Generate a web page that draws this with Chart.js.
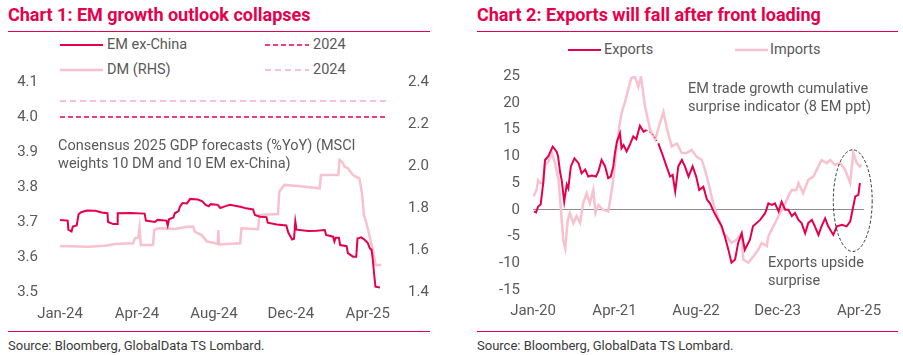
<!DOCTYPE html>
<html>
<head>
<meta charset="utf-8">
<script src="https://cdn.jsdelivr.net/npm/chart.js@4"></script>
<style>
  html,body{margin:0;padding:0;background:#fff;}
  body{width:903px;height:355px;position:relative;overflow:hidden;font-family:Roboto,"Noto Sans",sans-serif;}
  .abs{position:absolute;white-space:nowrap;}
  .title{font-weight:700;font-size:18px;color:#E6004C;line-height:20px;}
  .rule{position:absolute;height:1px;background:#E6004C;}
  .src{font-size:13px;color:#3a3a3a;line-height:16px;}
  .leg{font-size:14.5px;color:#595959;line-height:18px;}
  .ann{font-size:14.5px;color:#595959;line-height:18px;}
  canvas{position:absolute;}
</style>
</head>
<body>
<!-- Chart 1 -->
<div class="abs title" style="left:8px;top:5px;">Chart 1: EM growth outlook collapses</div>
<div class="rule" style="left:8px;top:31px;width:422px;"></div>
<svg class="abs" style="left:60px;top:38px;" width="43" height="40">
  <line x1="0" y1="7" x2="43" y2="7" stroke="#E6004C" stroke-width="2"/>
  <line x1="0" y1="32" x2="43" y2="32" stroke="#F8C1CF" stroke-width="2.5"/>
</svg>
<svg class="abs" style="left:265px;top:38px;" width="44" height="40">
  <line x1="0" y1="7" x2="44" y2="7" stroke="#E6004C" stroke-width="1.5" stroke-dasharray="5,3"/>
  <line x1="0" y1="32" x2="44" y2="32" stroke="#F8C1CF" stroke-width="2" stroke-dasharray="6,4"/>
</svg>
<div class="abs leg" style="left:107px;top:36px;">EM ex-China</div>
<div class="abs leg" style="left:107px;top:61px;">DM (RHS)</div>
<div class="abs leg" style="left:313px;top:36px;">2024</div>
<div class="abs leg" style="left:313px;top:61px;">2024</div>
<canvas id="c1" width="450" height="253" style="left:0px;top:72px;"></canvas>
<div class="abs ann" style="left:58px;top:137px;">Consensus 2025 GDP forecasts (%YoY) (MSCI</div>
<div class="abs ann" style="left:58px;top:155px;">weights 10 DM and 10 EM ex-China)</div>
<div class="rule" style="left:8px;top:331px;width:422px;"></div>
<div class="abs src" style="left:8px;top:338px;">Source: Bloomberg, GlobalData TS Lombard.</div>

<!-- Chart 2 -->
<div class="abs title" style="left:477px;top:5px;">Chart 2: Exports will fall after front loading</div>
<div class="rule" style="left:477px;top:31px;width:421px;"></div>
<svg class="abs" style="left:568px;top:42px;" width="33" height="14">
  <line x1="0" y1="8" x2="33" y2="8" stroke="#E6004C" stroke-width="2"/>
</svg>
<svg class="abs" style="left:735px;top:42px;" width="33" height="14">
  <line x1="0" y1="8" x2="33" y2="8" stroke="#F8C1CF" stroke-width="2.5"/>
</svg>
<div class="abs leg" style="left:604px;top:41px;">Exports</div>
<div class="abs leg" style="left:770px;top:41px;">Imports</div>
<canvas id="c2" width="443" height="259" style="left:460px;top:66px;"></canvas>
<div class="abs ann" style="left:688px;top:80px;">EM trade growth cumulative</div>
<div class="abs ann" style="left:688px;top:98px;">surprise indicator (8 EM ppt)</div>
<div class="abs ann" style="left:768px;top:254px;">Exports upside</div>
<div class="abs ann" style="left:768px;top:272px;">surprise</div>
<div class="rule" style="left:477px;top:331px;width:421px;"></div>
<div class="abs src" style="left:477px;top:338px;">Source: Bloomberg, GlobalData TS Lombard.</div>

<script>
// ---------- Chart 1 data (x = days since 1 Jan 2024) ----------
const emDays = [0,12,13,18,20,26,29,33,42,55,65,74,75,83,89,90,110,132,134,148,152,166,168,170,177,179,185,187,191,198,203,215,222,227,232,235,246,250,256,265,275,283,290,301,304,312,322,324,338,353,356,362,365,367,369,387,400,413,415,426,428,430,435,437,447,449,457,462,464,470,476,480,483,486,488,490,492,499];
const emVals = [3.706,3.704,3.678,3.673,3.687,3.690,3.722,3.728,3.733,3.732,3.727,3.725,3.700,3.694,3.694,3.725,3.726,3.724,3.704,3.700,3.706,3.704,3.690,3.708,3.713,3.725,3.731,3.744,3.754,3.753,3.766,3.764,3.759,3.749,3.745,3.751,3.749,3.740,3.744,3.749,3.746,3.743,3.739,3.736,3.720,3.715,3.714,3.698,3.693,3.690,3.670,3.650,3.652,3.702,3.678,3.674,3.675,3.677,3.663,3.658,3.644,3.655,3.655,3.634,3.631,3.611,3.601,3.601,3.653,3.656,3.648,3.640,3.626,3.620,3.590,3.550,3.515,3.513];
const dmDays = [0,44,70,86,114,117,122,124,126,145,147,153,179,198,208,210,221,229,242,246,247,248,281,283,309,311,340,342,350,371,405,407,434,436,440,444,449,457,467,471,474,478,483,488,492,501];
const dmVals = [1.619,1.616,1.620,1.629,1.632,1.656,1.660,1.705,1.624,1.624,1.695,1.703,1.700,1.711,1.711,1.687,1.671,1.641,1.632,1.630,1.695,1.626,1.632,1.703,1.699,1.767,1.771,1.878,1.910,1.905,1.894,1.957,1.957,2.029,2.020,1.997,1.989,1.957,1.940,1.870,1.767,1.727,1.663,1.600,1.529,1.529];
const ref2024Days = [0,510];
const em2024 = 4.0;
const dm2024 = 2.31;
const x1TickPos = [0,120,240,360,480];
const x1TickLabels = ['Jan-24','Apr-24','Aug-24','Dec-24','Apr-25'];

// ---------- Chart 2 data (x = months since Jan 2020) ----------
const expMonths = [0.2,0.6,1.0,1.5,2.0,2.35,3.0,3.85,4.6,4.9,5.3,5.6,6.1,6.6,6.9,7.4,8.1,8.9,9.5,10.2,10.8,11.5,12.3,12.8,13.4,14.1,14.7,15.2,15.7,16.0,16.4,17.0,17.3,17.7,18.3,18.9,19.6,20.2,20.9,21.6,22.2,23.5,24.5,25.2,26.1,26.8,27.3,27.8,28.4,29.1,29.7,30.4,31.2,31.9,32.5,33.3,34.0,34.6,35.3,36.2,36.9,37.5,38.2,38.8,39.5,40.1,40.8,41.4,42.4,43.0,44.4,45.4,46.0,46.7,47.3,48.0,48.6,49.3,49.9,50.6,51.2,51.9,52.5,53.2,53.8,54.5,55.1,55.8,56.4,57.1,57.7,58.7,59.4,60.4,61.3,62.0,62.6,63.0,63.6,63.9];
const expVals = [-0.3,-0.5,0.6,1.0,5.0,9.3,10.0,11.8,10.9,10.0,7.0,5.6,1.5,4.7,4.0,8.1,9.6,8.7,6.8,7.5,6.2,6.4,6.2,7.2,9.3,8.1,5.9,6.2,8.1,10.5,12.7,14.3,11.5,12.1,10.9,12.1,13.7,13.2,15.7,14.6,14.9,14.0,12.4,10.6,8.1,6.2,6.5,3.4,8.1,9.3,8.1,6.2,8.1,6.2,3.7,4.3,1.9,1.2,-0.3,-1.9,-3.1,-5.0,-7.5,-9.9,-9.3,-6.2,-4.4,-7.5,-5.6,-3.1,-1.9,-0.6,1.2,0.9,1.2,-0.3,1.5,0,0,-1.2,-0.6,-1.9,-2.5,-4.4,-2.5,-1.9,-3.1,-4.7,-3.1,-1.6,-3.1,-4.7,-3.1,-2.8,-3.1,-2.2,0.6,2.5,2.8,5.0];
const expGap = [22.2,24.5];
const impMonths = [0.1,0.7,1.0,1.4,2.0,2.3,3.0,3.7,4.3,5.0,5.5,5.9,6.3,6.8,7.2,7.9,8.5,9.2,9.8,10.5,11.1,11.8,12.2,12.8,13.7,14.7,15.2,15.7,16.2,16.8,17.3,18.0,18.6,19.2,19.9,20.6,21.1,21.9,22.9,23.9,24.8,25.5,26.1,27.1,28.1,29.1,30.0,31.0,32.0,33.0,33.6,34.3,34.9,35.6,36.6,37.2,37.9,38.8,39.8,40.8,41.1,42.1,43.1,44.0,44.7,45.7,46.0,47.3,48.3,49.3,50.2,50.6,51.5,51.9,52.8,53.8,54.8,55.8,56.4,57.4,58.1,59.0,60.0,61.0,62.0,62.6,63.3,63.9,64.2];
const impVals = [2.5,3.7,5.5,5.0,5.0,8.4,9.0,10.6,8.7,5.6,-0.6,-5.6,-7.2,-1.9,-0.6,-2.5,-1.2,-2.5,1.2,3.1,1.2,3.7,-0.6,0.9,0,-0.3,2.5,5.6,10.6,15.2,18.0,20.2,22.4,24.6,24.9,23.0,24.9,19.3,14.9,13.1,16.2,18.3,15.5,11.8,12.4,10.6,10.6,11.2,9.9,9.3,7.5,5.0,2.5,0,-2.5,-4.4,-5.0,-6.2,-5.6,-4.4,-9.3,-9.9,-8.7,-7.5,-6.2,-6.8,-5.0,-2.5,-0.6,1.2,3.1,3.7,3.7,5.0,3.1,5.6,6.2,8.1,9.3,8.7,9.3,8.4,8.7,7.5,5.0,10.6,8.7,8.1,8.4];
const x2TickPos = [0,15.93,31.87,47.8,63.73];
const x2TickLabels = ['Jan-20','Apr-21','Aug-22','Dec-23','Apr-25'];
// surprise ellipse (centre month, centre value, half-width months, half-height value)
const ellipseSpec = [62.5, 1.7, 3.8, 9.5];

// ---------- styling ----------
const RED = '#E6004C';
const PINK = '#F8C1CF';
const TICK = '#595959';
const FONT = {family:'Roboto', size:15};

const pts = (xs, ys) => xs.map((x,i)=>({x:x, y:ys[i]}));
const noGrid = {display:false};
const fitW = w => s => { s.width = w; s.paddingTop = 0; s.paddingBottom = 0; };
const fitH = h => s => { s.height = h; s.paddingLeft = 0; s.paddingRight = 0; };

new Chart(document.getElementById('c1'), {
  type:'line',
  data:{datasets:[
    {label:'EM ex-China', data:pts(emDays, emVals), borderColor:RED, borderWidth:2, pointRadius:0, yAxisID:'y', tension:0},
    {label:'DM (RHS)', data:pts(dmDays, dmVals), borderColor:PINK, borderWidth:2.5, pointRadius:0, yAxisID:'y1', tension:0},
    {label:'2024', data:ref2024Days.map(d=>({x:d,y:em2024})), borderColor:RED, borderWidth:1.5, borderDash:[5,3], pointRadius:0, yAxisID:'y'},
    {label:'2024', data:ref2024Days.map(d=>({x:d,y:dm2024})), borderColor:PINK, borderWidth:2, borderDash:[6,4], pointRadius:0, yAxisID:'y1'}
  ]},
  options:{
    responsive:false, animation:false,
    layout:{padding:{top:10, left:0, right:0, bottom:0}},
    plugins:{legend:{display:false}, tooltip:{enabled:false}},
    scales:{
      x:{type:'linear', min:0, max:510, grid:noGrid, border:{display:false},
         afterBuildTicks:a=>{a.ticks = x1TickPos.map(v=>({value:v}));},
         afterFit:fitH(33),
         ticks:{color:TICK, font:FONT, padding:5, maxRotation:0, autoSkip:false, callback:(v,i)=>x1TickLabels[i]}},
      y:{position:'left', min:3.5, max:4.1, grid:noGrid, border:{display:false},
         afterFit:fitW(60),
         ticks:{stepSize:0.1, color:TICK, font:FONT, padding:14, callback:v=>Number(v).toFixed(1)}},
      y1:{position:'right', min:1.4, max:2.4, grid:noGrid, border:{display:false},
         afterFit:fitW(63),
         ticks:{stepSize:0.2, color:TICK, font:FONT, padding:13, callback:v=>Number(v).toFixed(1)}}
    }
  }
});

const ellipsePlugin = {
  id:'ellipse',
  afterDatasetsDraw(chart){
    const {ctx, scales:{x, y}} = chart;
    const cx = x.getPixelForValue(ellipseSpec[0]);
    const cy = y.getPixelForValue(ellipseSpec[1]);
    const rx = Math.abs(x.getPixelForValue(ellipseSpec[0]+ellipseSpec[2]) - cx);
    const ry = Math.abs(y.getPixelForValue(ellipseSpec[1]+ellipseSpec[3]) - cy);
    ctx.save();
    ctx.beginPath();
    ctx.setLineDash([3,2]);
    ctx.strokeStyle = '#333';
    ctx.lineWidth = 1;
    ctx.ellipse(cx, cy, rx, ry, 0, 0, Math.PI*2);
    ctx.stroke();
    ctx.restore();
  }
};

new Chart(document.getElementById('c2'), {
  type:'line',
  data:{datasets:[
    {label:'Exports', data:pts(expMonths, expVals), borderColor:RED, borderWidth:2, pointRadius:0, tension:0,
     segment:{
       borderDash:c=> (c.p0.parsed.x>=expGap[0] && c.p1.parsed.x<=expGap[1]) ? [1.5,2] : undefined,
       borderWidth:c=> (c.p0.parsed.x>=expGap[0] && c.p1.parsed.x<=expGap[1]) ? 1 : undefined
     }},
    {label:'Imports', data:pts(impMonths, impVals), borderColor:PINK, borderWidth:2.5, pointRadius:0, tension:0}
  ]},
  options:{
    responsive:false, animation:false,
    layout:{padding:{top:10, left:0, right:39, bottom:0}},
    plugins:{legend:{display:false}, tooltip:{enabled:false}},
    scales:{
      x:{type:'linear', min:0, max:64.7, grid:noGrid, border:{display:false},
         afterBuildTicks:a=>{a.ticks = x2TickPos.map(v=>({value:v}));},
         afterFit:fitH(35),
         ticks:{color:TICK, font:FONT, padding:4, maxRotation:0, autoSkip:false, callback:(v,i)=>x2TickLabels[i]}},
      y:{min:-15, max:25, border:{display:false},
         grid:{drawTicks:false, lineWidth:1, color:c=> c.tick && c.tick.value===0 ? '#8c8c8c' : 'rgba(0,0,0,0)'},
         afterFit:fitW(73),
         ticks:{stepSize:5, color:TICK, font:FONT, padding:13}}
    }
  },
  plugins:[ellipsePlugin]
});
</script>
</body>
</html>
